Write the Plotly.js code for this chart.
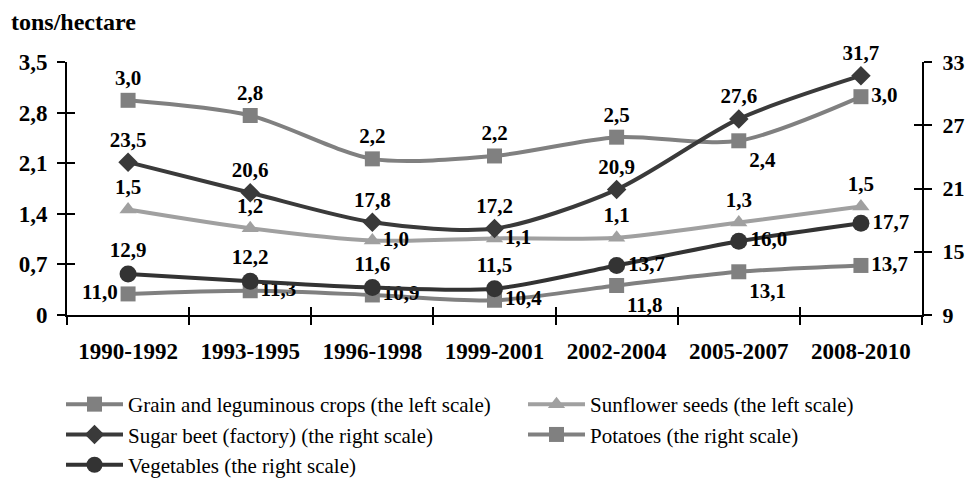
<!DOCTYPE html>
<html>
<head>
<meta charset="utf-8">
<script src="https://cdn.plot.ly/plotly-3.0.1.min.js"></script>
<style>html,body{margin:0;padding:0;background:#fff;}#chart{width:965px;height:480px;}</style>
</head>
<body>
<div id="chart"></div>
<script>
const categories = ['1990-1992','1993-1995','1996-1998','1999-2001','2002-2004','2005-2007','2008-2010'];
const grain = [2.97, 2.76, 2.16, 2.2, 2.46, 2.41, 3.02];
const sunflower = [1.46, 1.2, 1.03, 1.06, 1.07, 1.28, 1.5];
const sugarBeet = [23.5, 20.6, 17.8, 17.2, 20.9, 27.6, 31.7];
const potatoes = [11.0, 11.3, 10.9, 10.4, 11.8, 13.1, 13.7];
const vegetables = [12.9, 12.2, 11.6, 11.5, 13.7, 16.0, 17.7];
const leftTicks = [0, 0.7, 1.4, 2.1, 2.8, 3.5];
const rightTicks = [9, 15, 21, 27, 33];

const FONT = 'Liberation Serif';
const fmt = v => v.toFixed(1).replace('.', ',');
const labelFont = {family: FONT, size: 21, color: '#000', weight: 'bold'};

function series(name, y, axis, color, symbol, size, pos, legend) {
  return {
    type: 'scatter', mode: 'lines+markers+text', name: name, legend: legend,
    x: categories, y: y, yaxis: axis,
    line: {color: color, width: 4, shape: 'spline', smoothing: 0.8},
    marker: {color: color, symbol: symbol, size: size},
    text: y.map(fmt), textposition: pos, textfont: labelFont,
    hoverinfo: 'skip', cliponaxis: false
  };
}

const traces = [
  series('Grain and leguminous crops (the left scale)', grain, 'y', '#808080', 'square', 15,
    ['top center','top center','top center','top center','top center','bottom right','middle right'], 'legend'),
  series('Sunflower seeds (the left scale)', sunflower, 'y', '#a0a0a0', 'triangle-up', 15,
    ['top center','top center','middle right','middle right','top center','top center','top center'], 'legend2'),
  series('Sugar beet (factory) (the right scale)', sugarBeet, 'y2', '#3a3a3a', 'diamond', 15,
    ['top center','top center','top center','top center','top center','top center','top center'], 'legend'),
  series('Potatoes (the right scale)', potatoes, 'y2', '#808080', 'square', 15,
    ['middle left','middle right','middle right','middle right','bottom right','bottom right','middle right'], 'legend2'),
  series('Vegetables (the right scale)', vegetables, 'y2', '#333333', 'circle', 17,
    ['top center','top center','top center','top center','middle right','middle right','middle right'], 'legend'),
  // helper traces that carry the inner halves of the cross tick marks
  {type:'scatter', mode:'lines', x: categories, y: categories.map(()=>null), xaxis:'x2', yaxis:'y', showlegend:false, hoverinfo:'skip'},
  {type:'scatter', mode:'lines', x: categories, y: categories.map(()=>null), xaxis:'x', yaxis:'y3', showlegend:false, hoverinfo:'skip'},
  {type:'scatter', mode:'lines', x: categories, y: categories.map(()=>null), xaxis:'x', yaxis:'y4', showlegend:false, hoverinfo:'skip'}
];

const tickFont = {family: FONT, size: 23, color: '#000', weight: 'bold'};
const xBase = {type:'category', categoryarray: categories, range:[-0.5, 6.5], tickson:'boundaries',
  showgrid:false, zeroline:false, ticklen:8, tickwidth:2, tickcolor:'#000', fixedrange:true};
const legendBase = {orientation:'h', xref:'container', xanchor:'left', y: 1 - 384/480, yref:'container', yanchor:'top',
  font: {family: FONT, size: 21, color: '#000'}, entrywidth: 370, entrywidthmode: 'pixels',
  itemwidth: 57, tracegroupgap: 0, bgcolor: 'rgba(0,0,0,0)'};
const layout = {
  width: 965, height: 480,
  margin: {l: 67, r: 43, t: 62, b: 165},
  paper_bgcolor: '#fff', plot_bgcolor: '#fff',
  separators: ',.',
  font: {family: FONT, color: '#000'},
  title: {text: 'tons/hectare', font: {family: FONT, size: 24, color: '#000', weight: 'bold'},
    x: 11/965, xref: 'container', xanchor: 'left', y: 1 - 22/480, yref: 'container', yanchor: 'middle'},
  xaxis: Object.assign({}, xBase, {ticks:'outside', showline:true, linecolor:'#000', linewidth:2,
    tickfont: tickFont, ticklabelstandoff: 14}),
  xaxis2: Object.assign({}, xBase, {overlaying:'x', anchor:'y', side:'bottom', ticks:'inside', showline:false, showticklabels:false}),
  yaxis: {range:[0, 3.5], tickvals: leftTicks, ticktext: leftTicks.map(v => v === 0 ? '0' : fmt(v)),
    ticks:'outside', ticklen:8, tickwidth:2, tickcolor:'#000', showline:true, linecolor:'#000', linewidth:2,
    showgrid:false, zeroline:false, tickfont: tickFont, ticklabelstandoff: 5, fixedrange:true},
  yaxis2: {range:[9, 33], tickvals: rightTicks, ticktext: rightTicks.map(String), overlaying:'y', side:'right', anchor:'x',
    ticks:'outside', ticklen:8, tickwidth:2, tickcolor:'#000', showline:true, linecolor:'#000', linewidth:2,
    showgrid:false, zeroline:false, tickfont: Object.assign({}, tickFont, {size: 22}), ticklabelstandoff: 6, fixedrange:true},
  yaxis3: {range:[0, 3.5], tickvals: leftTicks, overlaying:'y', side:'left', ticks:'inside', ticklen:8, tickwidth:2,
    tickcolor:'#000', showticklabels:false, showline:false, showgrid:false, zeroline:false, fixedrange:true},
  yaxis4: {range:[9, 33], tickvals: rightTicks, overlaying:'y', side:'right', ticks:'inside', ticklen:8, tickwidth:2,
    tickcolor:'#000', showticklabels:false, showline:false, showgrid:false, zeroline:false, fixedrange:true},
  showlegend: true,
  legend: Object.assign({}, legendBase, {x: 61/965}),
  legend2: Object.assign({}, legendBase, {x: 523/965})
};

Plotly.newPlot('chart', traces, layout, {displayModeBar: false, staticPlot: true});
</script>
</body>
</html>
